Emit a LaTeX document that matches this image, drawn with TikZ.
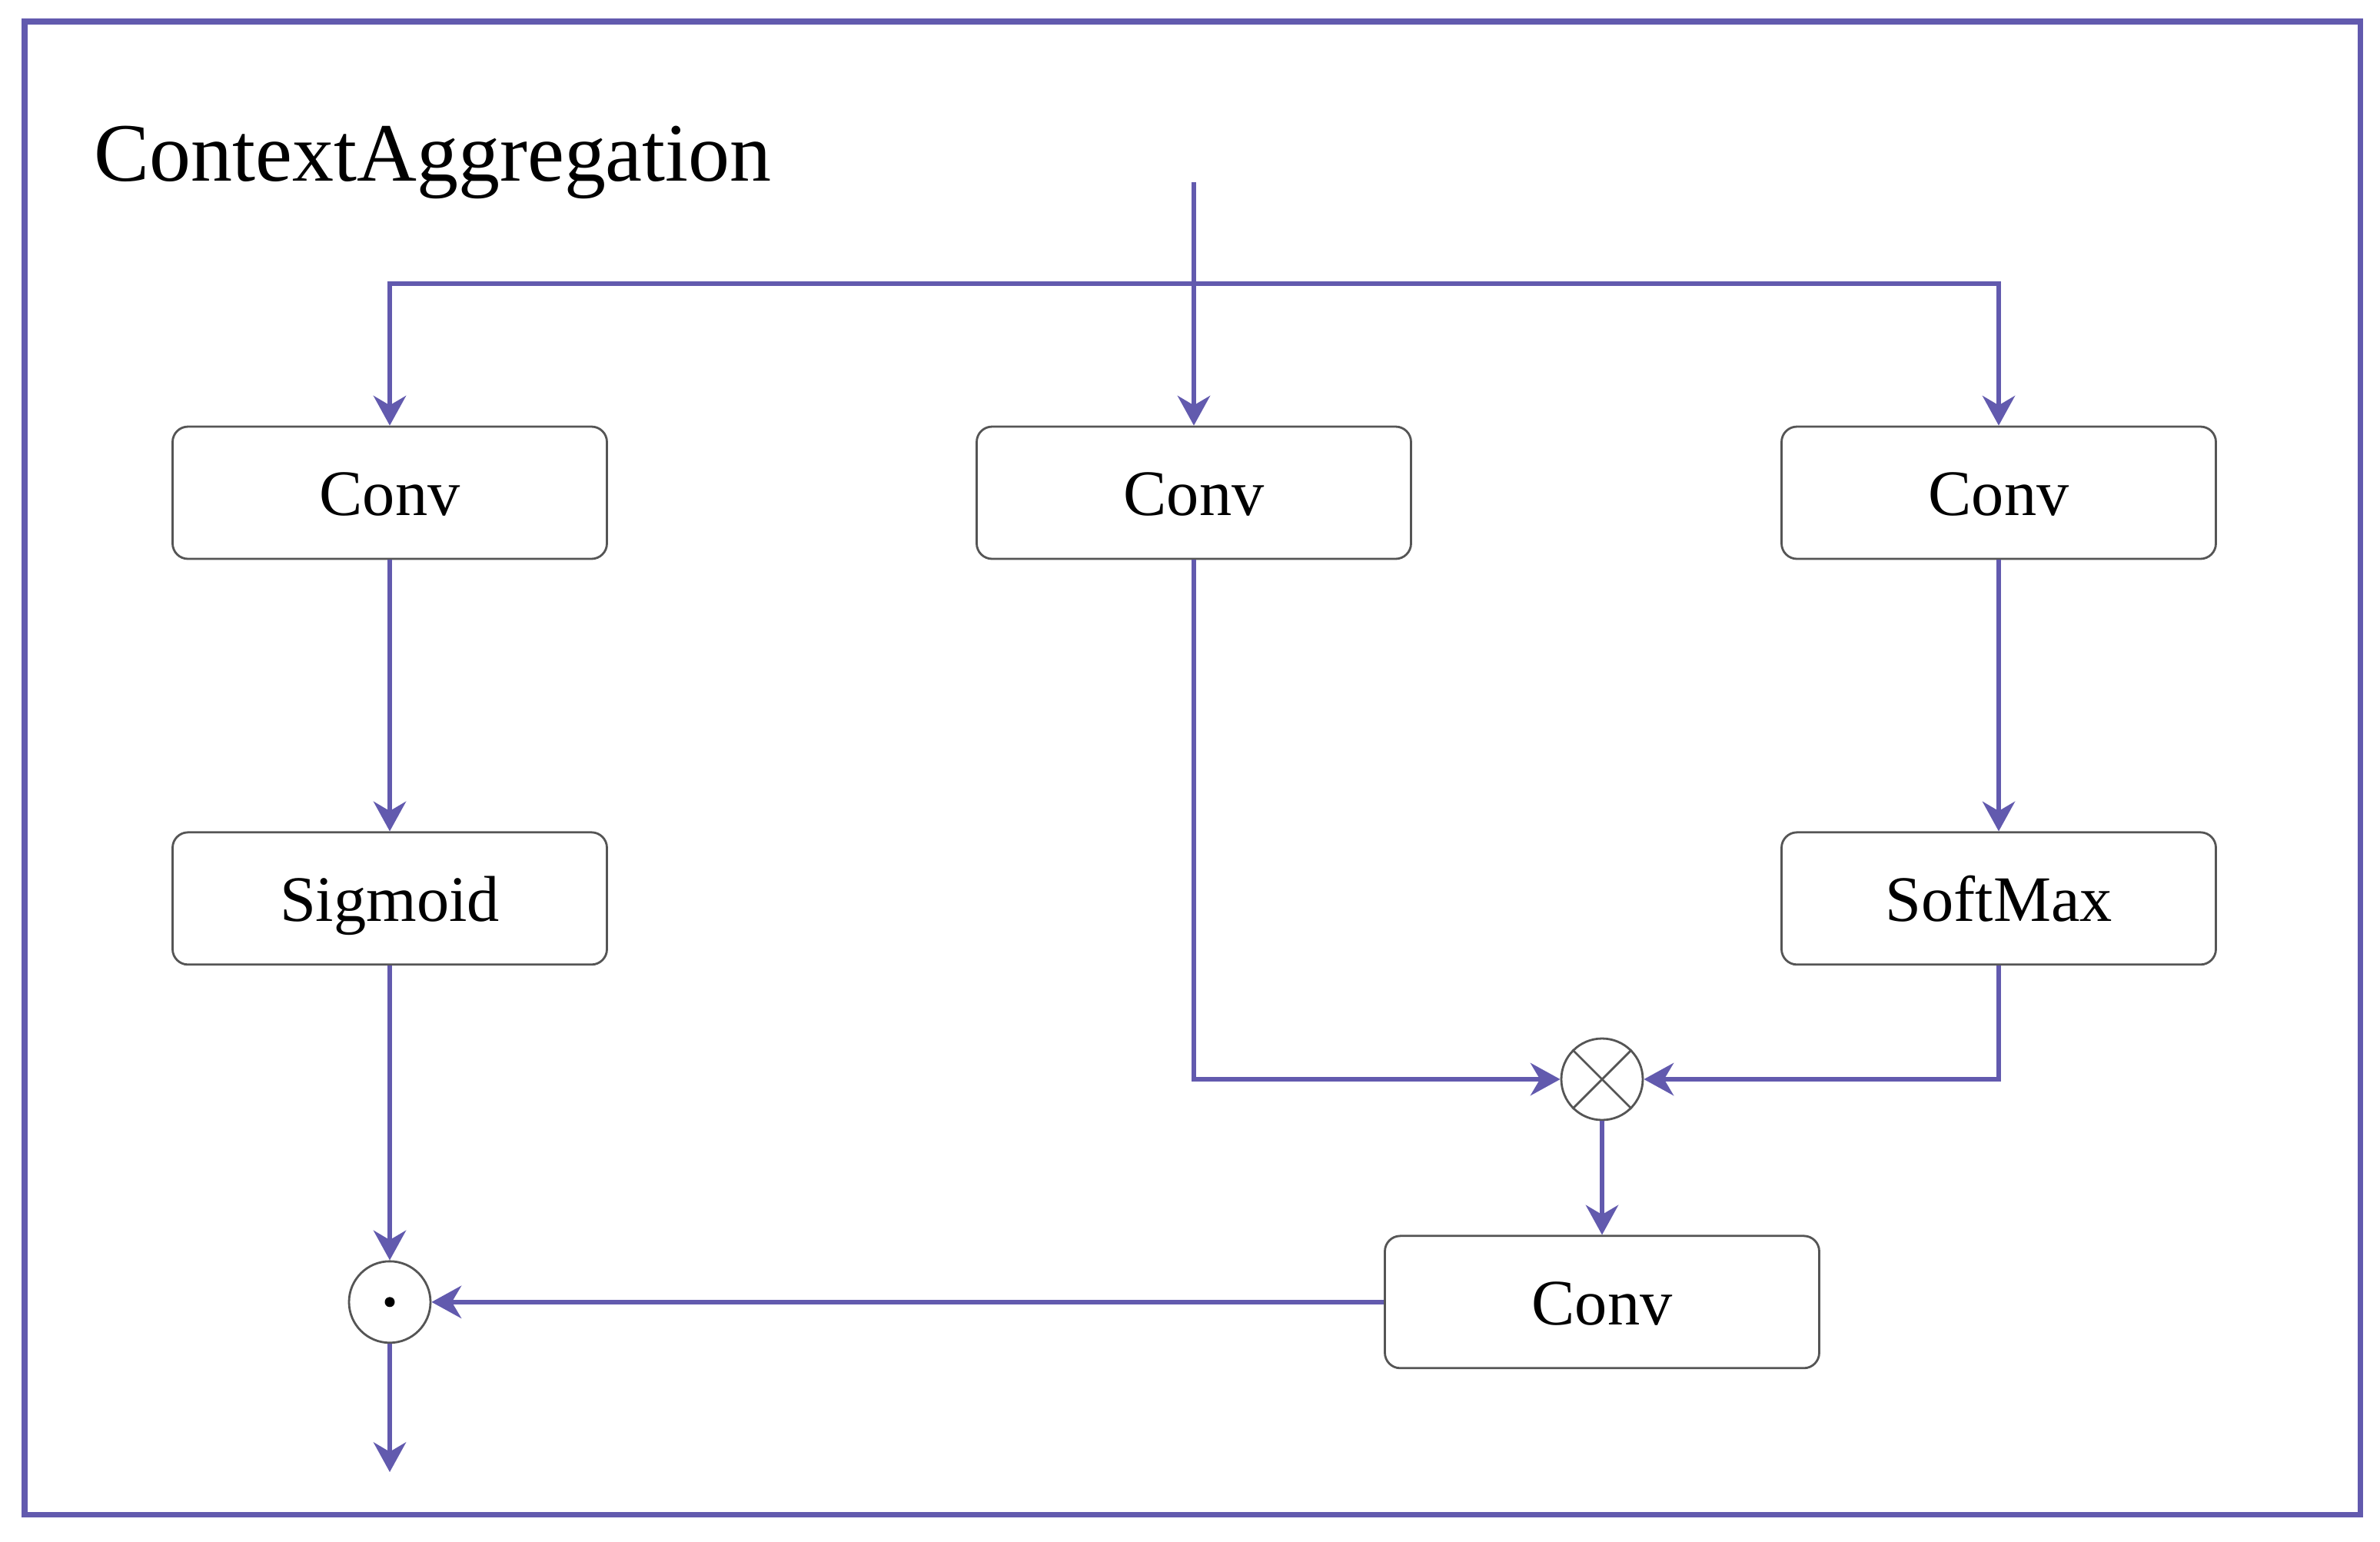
\documentclass[tikz,border=0pt]{standalone}
\usepackage{fontspec}
\setmainfont{Liberation Serif}
\usetikzlibrary{arrows.meta,positioning,calc}
\definecolor{flowblue}{RGB}{98,90,174}
\definecolor{boxgray}{RGB}{85,85,85}

\begin{document}
\begin{tikzpicture}[node distance=35.3mm,
    blk/.style={draw=boxgray, line width=0.8pt, rounded corners=2mm, minimum width=5.65cm,
                minimum height=1.72cm, inner sep=0pt, text height=20pt, text depth=3pt,
                font=\fontsize{24}{28}\selectfont},
    op/.style={draw=boxgray, line width=0.8pt, circle, minimum size=1.06cm, inner sep=0pt},
    flow/.style={draw=flowblue, line width=1.7pt, -{Stealth[length=11pt,width=12pt,inset=3.5pt]}}]
  \useasboundingbox (0,0) rectangle (30.96,-20.05);
  \draw[flowblue, line width=2pt] (0.32,-0.28) rectangle (30.70,-19.70);
  \node[anchor=west, inner sep=0pt, font=\fontsize{30.7}{36}\selectfont] (title) at (1.22,-2.11) {ContextAggregation};

  % three branches
  \node[blk] (conv1) at (5.07,-6.41) {Conv};
  \node[blk] (conv2) at (15.53,-6.41) {Conv};
  \node[blk] (conv3) at (26.00,-6.41) {Conv};
  \node[blk, below=of conv1] (sig) {Sigmoid};
  \node[blk, below=of conv3] (soft) {SoftMax};

  % fusion
  \node[op] (mul) at (20.84,-14.04) {};
  \draw[boxgray, line width=0.8pt] (mul.north west) -- (mul.south east) (mul.north east) -- (mul.south west);
  \node[blk, below=1.48cm of mul] (conv4) {Conv};
  \node[op] (dot) at (conv1 |- conv4) {};
  \fill (dot.center) circle (0.065);

  \coordinate (in) at (15.53,-2.37);
  \coordinate (fork) at (15.53,-3.69);
  \coordinate (out) at (5.07,-19.15);

  \draw[flow] (in) -- (conv2);
  \draw[flow] (fork) -| (conv1.north);
  \draw[flow] (fork) -| (conv3.north);
  \draw[flow] (conv1) -- (sig);
  \draw[flow] (conv3) -- (soft);
  \draw[flow] (conv2.south) |- (mul.west);
  \draw[flow] (soft.south) |- (mul.east);
  \draw[flow] (mul) -- (conv4);
  \draw[flow] (conv4) -- (dot);
  \draw[flow] (sig) -- (dot);
  \draw[flow] (dot) -- (out);
\end{tikzpicture}
\end{document}
